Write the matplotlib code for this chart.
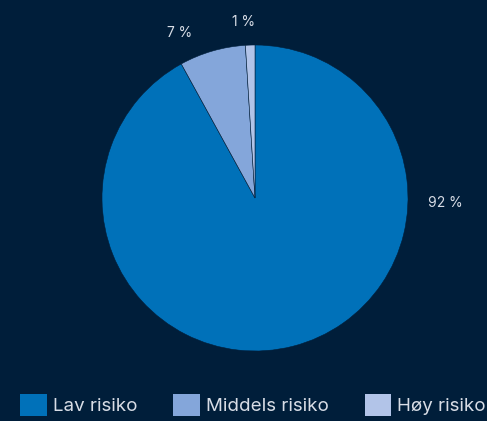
import matplotlib
matplotlib.use("Agg")
import matplotlib.pyplot as plt
from matplotlib.patches import Patch

# andel kunder per risikoklasse
kategorier = ["Lav risiko", "Middels risiko", "Høy risiko"]
andeler = [92, 7, 1]
farger = ["#0071b9", "#84a6da", "#b2c4e8"]

bakgrunn = "#001e3a"
tekstfarge = "#d8dde6"

plt.rcParams["font.family"] = ["Inter", "DejaVu Sans"]

fig = plt.figure(figsize=(4.87, 4.21), dpi=100, facecolor=bakgrunn)
ax = fig.add_axes([0, 0, 1, 1])
ax.set_facecolor(bakgrunn)

# kakediagram i pikselkoordinater, med klokka fra toppen
wedges, _ = ax.pie(andeler, colors=farger, startangle=90, counterclock=False,
                   center=(255, 223), radius=153,
                   wedgeprops=dict(edgecolor=bakgrunn, linewidth=0.4))
ax.set_xlim(0, 487)
ax.set_ylim(0, 421)
ax.set_aspect("equal")
ax.axis("off")

# plassering av verdietikettene
etikett_pos = [(445, 218), (180, 388), (244, 399)]
for verdi, (x, y) in zip(andeler, etikett_pos):
    ax.text(x, y, f"{verdi} %", color=tekstfarge, fontsize=10,
            ha="center", va="center")

handles = [Patch(facecolor=f, edgecolor="none") for f in farger]
fig.legend(handles, kategorier, loc="lower center", bbox_to_anchor=(0.52, -0.028),
           ncol=3, frameon=False, fontsize=13.5, labelcolor=tekstfarge,
           handlelength=1.4, handleheight=1.4, handletextpad=0.35, columnspacing=1.9)

fig.savefig("out.png", dpi=100, facecolor=bakgrunn)
